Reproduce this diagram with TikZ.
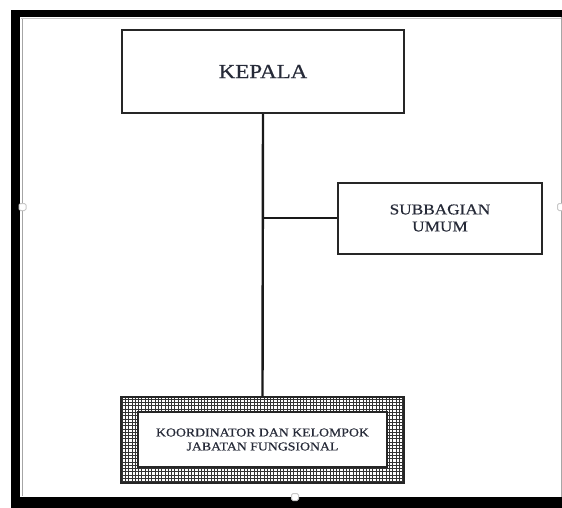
\documentclass[tikz,border=0pt]{standalone}
\usepackage{fontspec}
\setmainfont{Liberation Serif}[FakeStretch=1.15,FakeBold=0.6]
\definecolor{txt}{HTML}{262A38}
\definecolor{handle}{HTML}{C8C8C8}
\begin{document}
\begin{tikzpicture}[x=1pt,y=-1pt,
  box/.style={draw=black!85,line width=2pt,fill=white,inner sep=0pt,text=txt,align=center},
  conn/.style={draw=black!90,line width=2.4pt},
  hnd/.style={draw=handle,line width=1pt,fill=white,rounded corners=1.5pt,minimum size=7pt,inner sep=0pt}]
\useasboundingbox (0,0) rectangle (562,508);
\fill[white] (0,0) rectangle (562,508);
% outer frame
\fill[black] (11,10) rectangle (562,17);
\fill[black] (11,10) rectangle (20,508);
\fill[black] (11,497) rectangle (562,508);
\draw[gray!70,line width=0.8pt] (22.5,18) -- (22.5,496);
\draw[gray!45,line width=0.6pt] (21,18.5) -- (561,18.5);
\draw[gray!70,line width=0.8pt] (561,17) -- (561,497);
% boxes
\node[box,minimum width=282pt,minimum height=83pt,font=\fontsize{20}{24}\selectfont] (kepala) at (263,71.5) {KEPALA};
\node[box,minimum width=204pt,minimum height=71pt,font=\fontsize{15}{17}\selectfont] (sub) at (440,218) {SUBBAGIAN\\UMUM};
\node[draw=black!85,line width=1.5pt,minimum width=283pt,minimum height=86pt,inner sep=0pt] (koord) at (262.5,440) {};
\begin{scope}
\clip (koord.south west) rectangle (koord.north east);
\draw[black!80,line width=0.9pt,step=3.3pt] ([xshift=-3pt,yshift=-3pt]koord.south west) grid ([xshift=3pt,yshift=3pt]koord.north east);
\end{scope}
\node[draw=black!85,line width=1.5pt,minimum width=283pt,minimum height=86pt,inner sep=0pt] at (koord.center) {};
\node[box,line width=1.6pt,minimum width=249pt,minimum height=55pt,font=\fontsize{12}{14}\selectfont] (kinner) at (262.5,439.5) {KOORDINATOR DAN KELOMPOK\\JABATAN FUNGSIONAL};
% connectors
\coordinate (j) at (kepala.south |- sub.west);
\draw[conn] (kepala.south) -- (koord.north);
\draw[conn,line width=2pt] (j) -- (sub.west);
% handles
\node[hnd] (h1) at (22.5,207) {};
\node[hnd] (h2) at (561,207) {};
\node[hnd] (h3) at (295,497) {};
\end{tikzpicture}
\end{document}
